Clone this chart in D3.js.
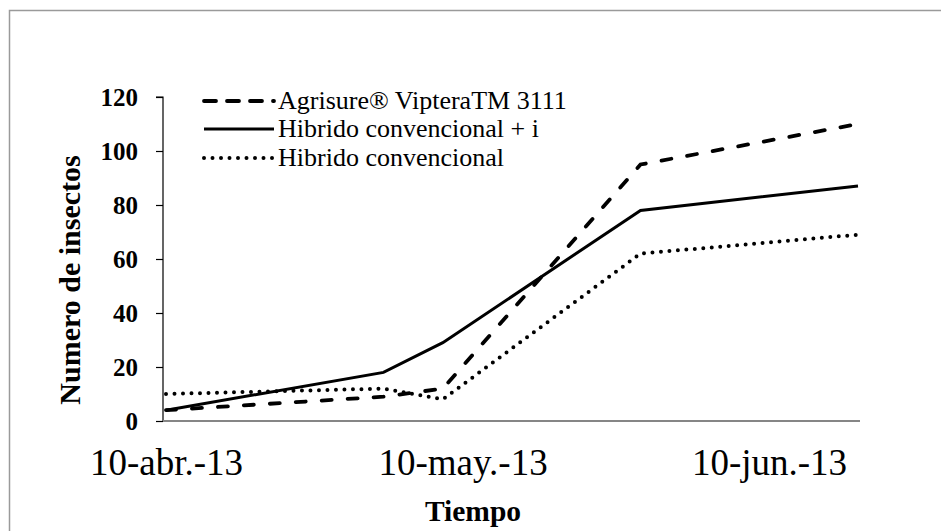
<!DOCTYPE html>
<html>
<head>
<meta charset="utf-8">
<script src="https://cdn.jsdelivr.net/npm/d3@7"></script>
<style>
  body { margin: 0; background: #fff; }
  svg text { font-family: "Liberation Serif", "Times New Roman", serif; fill: #000; }
</style>
</head>
<body>
<div id="grafika"></div>
<script>
// fechas de muestreo y valores por serie
const fechas = ["2013-04-10", "2013-05-02", "2013-05-08", "2013-05-28", "2013-06-19"];
const agrisure = [4, 9, 12, 95, 110];
const hibrido_i = [4, 18, 29, 78, 87];
const hibrido = [10, 12, 8, 62, 69];
const series_names = ["Agrisure® VipteraTM 3111", "Hibrido convencional + i", "Hibrido convencional"];
const x_ticks = ["2013-04-10", "2013-05-10", "2013-06-10"];
const x_tick_labels = ["10-abr.-13", "10-may.-13", "10-jun.-13"];
const y_ticks = [0, 20, 40, 60, 80, 100, 120];

const W = 941, H = 531;
const serif = "Liberation Serif";
const parse = d3.timeParse("%Y-%m-%d");
const axis_x0 = 163;

const x_scale = d3.scaleTime()
  .domain([parse(fechas[0]), parse(fechas[fechas.length - 1])])
  .range([166, 858]);
const y_scale = d3.scaleLinear().domain([0, 120]).range([421, 97]);

const styles = [
  { width: 3.8, dash: "10,16", cap: "round" },
  { width: 3, dash: null, cap: "butt" },
  { width: 4, dash: "0,8.5", cap: "round" }
];

const svg = d3.select("#grafika")
  .append("svg")
  .attr("width", W)
  .attr("height", H)
  .attr("font-family", serif);

svg.append("rect")
  .attr("x", 9.5).attr("y", 10.5)
  .attr("width", 1200).attr("height", 1200)
  .attr("fill", "none")
  .attr("stroke", "#9a9a9a")
  .attr("stroke-width", 1.5);

// eje y
const y_axis = d3.axisLeft(y_scale).tickValues(y_ticks).tickSize(7).tickPadding(18);
const gy = svg.append("g")
  .attr("transform", `translate(${axis_x0}, 0)`)
  .call(y_axis)
  .attr("font-family", serif);
gy.select(".domain").attr("stroke", "#000").attr("stroke-width", 1.2)
  .attr("d", `M-7,${y_scale(120)}H0V${y_scale(0)}`);
gy.selectAll(".tick line").attr("stroke", "#000").attr("stroke-width", 1.2);
gy.selectAll(".tick text")
  .attr("font-family", serif)
  .attr("font-weight", "bold")
  .attr("font-size", 25);

// eje x
const x_axis = d3.axisBottom(x_scale)
  .tickValues(x_ticks.map(parse))
  .tickSize(0)
  .tickFormat((d, i) => x_tick_labels[i]);
const gx = svg.append("g")
  .attr("transform", `translate(0, ${y_scale(0)})`)
  .call(x_axis)
  .attr("font-family", serif);
gx.select(".domain").remove();
gx.selectAll(".tick text")
  .attr("y", 54).attr("dy", 0)
  .attr("font-family", serif)
  .attr("font-size", 37);
gx.append("line")
  .attr("x1", axis_x0).attr("x2", x_scale.range()[1] + 2)
  .attr("y1", 0).attr("y2", 0)
  .attr("stroke", "#868686")
  .attr("stroke-width", 2.2);

// titulos
svg.append("text")
  .attr("x", 473).attr("y", 521)
  .attr("text-anchor", "middle")
  .attr("font-weight", "bold").attr("font-size", 29.5)
  .text("Tiempo");
svg.append("text")
  .attr("transform", "translate(80, 280) rotate(-90)")
  .attr("text-anchor", "middle")
  .attr("font-weight", "bold").attr("font-size", 30)
  .text("Numero de insectos");

// lineas
const line = d3.line()
  .x((d, i) => x_scale(parse(fechas[i])))
  .y(d => y_scale(d));

[agrisure, hibrido_i, hibrido].forEach((values, k) => {
  svg.append("path")
    .datum(values)
    .attr("d", line)
    .attr("fill", "none")
    .attr("stroke", "#000")
    .attr("stroke-width", styles[k].width)
    .attr("stroke-dasharray", styles[k].dash)
    .attr("stroke-linecap", styles[k].cap)
    .attr("stroke-linejoin", "miter");
});

// leyenda
const legend_y = [101, 129, 158];
const legend = svg.append("g");
series_names.forEach((name, k) => {
  legend.append("line")
    .attr("x1", 204).attr("x2", 274)
    .attr("y1", legend_y[k]).attr("y2", legend_y[k])
    .attr("stroke", "#000")
    .attr("stroke-width", styles[k].width)
    .attr("stroke-dasharray", k === 0 ? "12,11" : styles[k].dash)
    .attr("stroke-linecap", styles[k].cap);
  legend.append("text")
    .attr("x", 278).attr("y", legend_y[k] + 8)
    .attr("font-size", 26)
    .text(name);
});
</script>
</body>
</html>
